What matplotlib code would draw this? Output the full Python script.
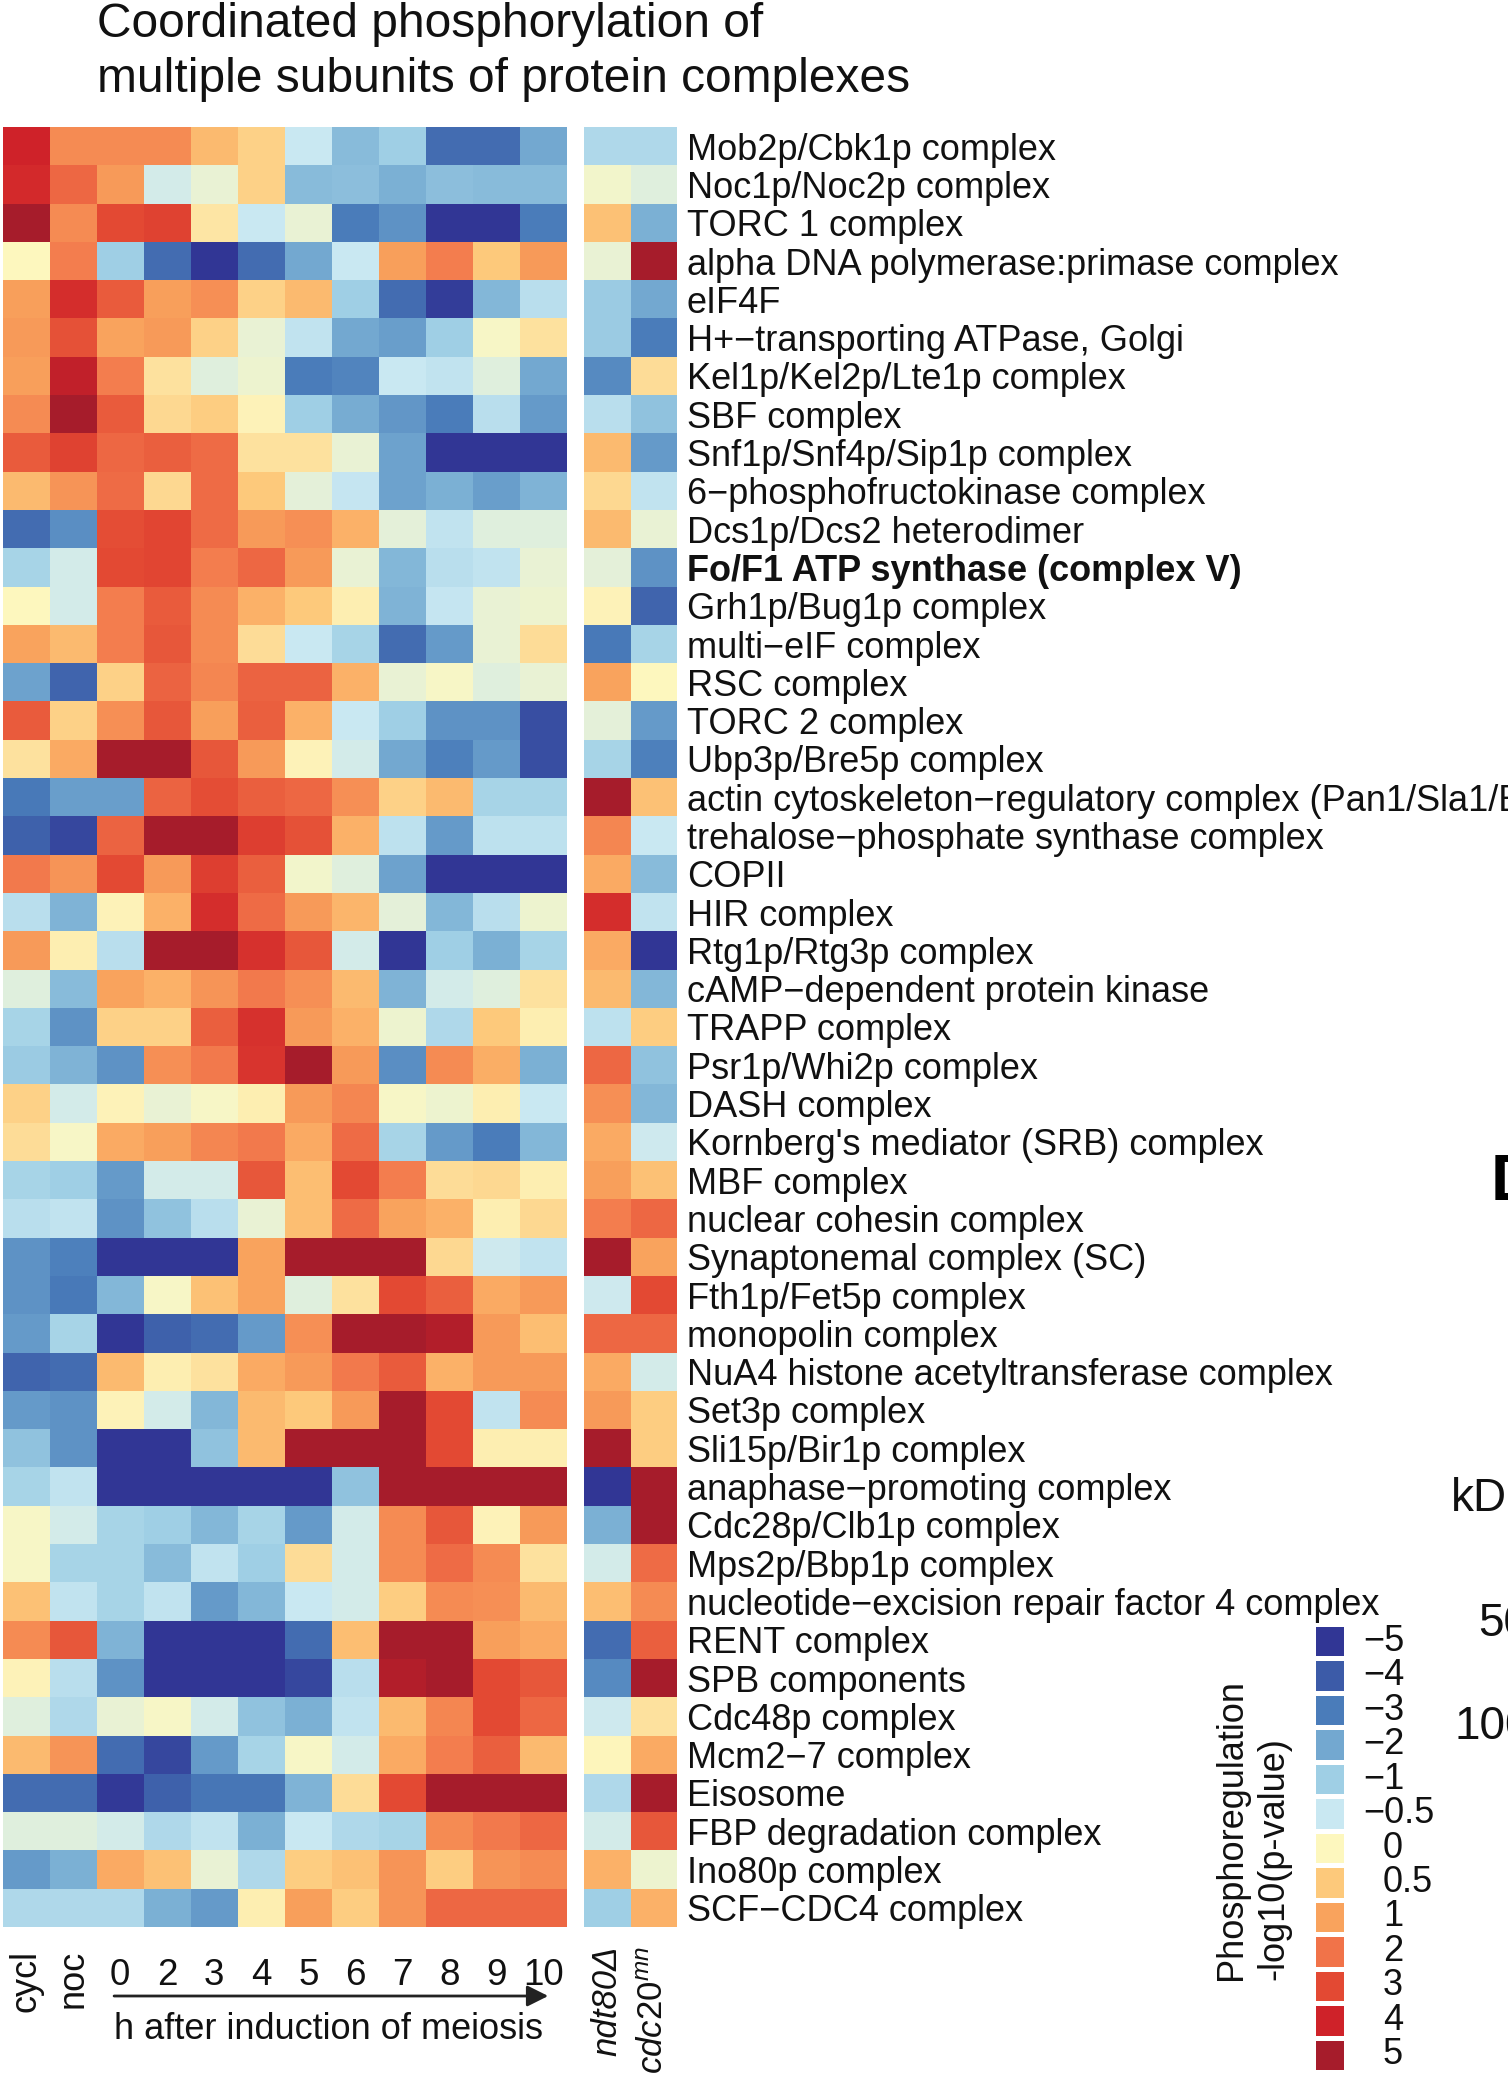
import numpy as np
import matplotlib
matplotlib.use('Agg')
import matplotlib.pyplot as plt
from matplotlib.colors import LinearSegmentedColormap, FuncNorm
from matplotlib.transforms import blended_transform_factory

plt.rcParams['font.family'] = ['Liberation Sans', 'DejaVu Sans']
plt.rcParams['mathtext.fontset'] = 'custom'
plt.rcParams['mathtext.rm'] = 'Liberation Sans'
plt.rcParams['mathtext.it'] = 'Liberation Sans:italic'

complexes = ['Mob2p/Cbk1p complex', 'Noc1p/Noc2p complex', 'TORC 1 complex',
             'alpha DNA polymerase:primase complex', 'eIF4F',
             'H+\u2212transporting ATPase, Golgi', 'Kel1p/Kel2p/Lte1p complex',
             'SBF complex', 'Snf1p/Snf4p/Sip1p complex',
             '6\u2212phosphofructokinase complex', 'Dcs1p/Dcs2 heterodimer',
             'Fo/F1 ATP synthase (complex V)', 'Grh1p/Bug1p complex',
             'multi\u2212eIF complex', 'RSC complex', 'TORC 2 complex',
             'Ubp3p/Bre5p complex',
             'actin cytoskeleton\u2212regulatory complex (Pan1/Sla1/End3)',
             'trehalose\u2212phosphate synthase complex', 'COPII', 'HIR complex',
             'Rtg1p/Rtg3p complex', 'cAMP\u2212dependent protein kinase',
             'TRAPP complex', 'Psr1p/Whi2p complex', 'DASH complex',
             "Kornberg's mediator (SRB) complex", 'MBF complex',
             'nuclear cohesin complex', 'Synaptonemal complex (SC)',
             'Fth1p/Fet5p complex', 'monopolin complex',
             'NuA4 histone acetyltransferase complex', 'Set3p complex',
             'Sli15p/Bir1p complex', 'anaphase\u2212promoting complex',
             'Cdc28p/Clb1p complex', 'Mps2p/Bbp1p complex',
             'nucleotide\u2212excision repair factor 4 complex', 'RENT complex',
             'SPB components', 'Cdc48p complex', 'Mcm2\u22127 complex', 'Eisosome',
             'FBP degradation complex', 'Ino80p complex', 'SCF\u2212CDC4 complex']

columns = ['cycl', 'noc', '0', '2', '3', '4', '5', '6', '7', '8', '9', '10']
mutants = ['ndt80\u0394', r'$\mathit{cdc20}^{\mathit{mn}}$']

# signed -log10(p-value), one row per complex
time_values = [
    [4, 1.5, 1.5, 1.5, 0.7, 0.4, -0.5, -1.5, -1, -3.5, -3.5, -2],
    [3.8, 2.3, 1.2, -0.4, -0.2, 0.4, -1.5, -1.4, -1.8, -1.4, -1.5, -1.5],
    [5, 1.5, 3, 3.2, 0.2, -0.5, -0.2, -3, -2.5, -5, -5, -3],
    [0, 1.8, -1, -3.5, -5, -3.5, -2, -0.5, 1.1, 1.8, 0.5, 1.2],
    [1.1, 3.7, 2.6, 1.1, 1.4, 0.4, 0.7, -1, -3.5, -4.8, -1.6, -0.7],
    [1.2, 2.8, 1, 1.2, 0.4, -0.2, -0.6, -2, -2.2, -1, -0.05, 0.25],
    [1.1, 4.3, 1.8, 0.25, -0.3, -0.15, -3, -2.8, -0.5, -0.6, -0.3, -2],
    [1.5, 5, 2.6, 0.35, 0.45, 0.05, -1, -1.9, -2.4, -3, -0.7, -2.3],
    [2.6, 3.2, 2.3, 2.5, 2.2, 0.25, 0.25, -0.2, -2.1, -5, -5, -5],
    [0.7, 1.3, 2.2, 0.35, 2.2, 0.5, -0.25, -0.55, -2.1, -1.8, -2.2, -1.7],
    [-3.5, -2.6, 2.9, 3.1, 2.2, 1.2, 1.4, 0.8, -0.25, -0.6, -0.3, -0.3],
    [-0.9, -0.4, 3, 3.1, 1.8, 2.3, 1.2, -0.2, -1.6, -0.7, -0.6, -0.2],
    [0, -0.4, 1.8, 2.6, 1.5, 0.8, 0.5, 0.1, -1.7, -0.55, -0.2, -0.15],
    [1, 0.7, 1.8, 2.7, 1.5, 0.3, -0.5, -0.9, -3.5, -2.3, -0.2, 0.3],
    [-2.1, -3.7, 0.4, 2.4, 1.6, 2.4, 2.4, 0.8, -0.2, -0.05, -0.3, -0.2],
    [2.6, 0.4, 1.4, 2.7, 1.1, 2.5, 0.8, -0.5, -1, -2.5, -2.5, -4.3],
    [0.25, 0.9, 5, 5, 2.7, 1.2, 0.05, -0.4, -2, -2.9, -2.3, -4.3],
    [-3.1, -2.2, -2.2, 2.4, 2.9, 2.5, 2.3, 1.4, 0.4, 0.7, -0.9, -0.9],
    [-3.8, -4.5, 2.4, 5, 5, 3.3, 2.8, 0.8, -0.65, -2.3, -0.65, -0.65],
    [1.9, 1.3, 3, 1.2, 3.3, 2.5, -0.1, -0.3, -2.1, -5, -5, -5],
    [-0.7, -1.7, 0.05, 0.8, 3.7, 2.2, 1.2, 0.75, -0.25, -1.6, -0.7, -0.15],
    [1.2, 0.1, -0.7, 5, 5, 3.6, 2.7, -0.4, -5, -1, -1.8, -0.9],
    [-0.3, -1.5, 1, 0.8, 1.3, 1.9, 1.4, 0.7, -1.7, -0.4, -0.3, 0.25],
    [-0.9, -2.5, 0.4, 0.4, 2.5, 3.6, 1.2, 0.8, -0.15, -0.8, 0.5, 0.1],
    [-1.1, -1.7, -2.5, 1.4, 1.9, 3.5, 5, 1.2, -2.6, 1.5, 0.85, -1.8],
    [0.4, -0.4, 0.05, -0.2, -0.05, 0.1, 1.2, 1.6, -0.05, -0.15, 0.1, -0.5],
    [0.3, -0.05, 0.9, 1.1, 1.6, 1.9, 0.9, 2.2, -0.9, -2.3, -3, -1.6],
    [-0.9, -1, -2.3, -0.4, -0.4, 2.7, 0.65, 3, 1.8, 0.3, 0.35, 0.1],
    [-0.7, -0.6, -2.5, -1.3, -0.7, -0.2, 0.65, 2.2, 1, 0.8, 0.1, 0.35],
    [-2.5, -2.9, -5, -5, -5, 1, 5, 5, 5, 0.35, -0.45, -0.6],
    [-2.5, -3.1, -1.6, -0.05, 0.6, 1, -0.3, 0.25, 3, 2.5, 0.9, 1.2],
    [-2.3, -0.9, -5, -3.8, -3.5, -2.3, 1.4, 5, 5, 4.7, 1.2, 0.65],
    [-3.7, -3.5, 0.7, 0.1, 0.25, 0.9, 1.2, 1.9, 2.6, 0.8, 1.2, 1.2],
    [-2.3, -2.5, 0.05, -0.4, -1.6, 0.7, 0.5, 1.2, 5, 3, -0.6, 1.5],
    [-1.3, -2.5, -5, -5, -1.3, 0.7, 5, 5, 5, 3, 0.1, 0.1],
    [-0.9, -0.6, -5, -5, -5, -5, -5, -1.3, 5, 5, 5, 5],
    [-0.05, -0.4, -0.9, -1, -1.6, -0.9, -2.3, -0.4, 1.5, 2.7, 0.05, 1.2],
    [-0.05, -0.9, -0.9, -1.5, -0.6, -1, 0.3, -0.4, 1.5, 2.2, 1.5, 0.25],
    [0.6, -0.6, -0.9, -0.6, -2.3, -1.6, -0.5, -0.4, 0.45, 1.5, 1.4, 0.7],
    [1.5, 2.7, -1.7, -5, -5, -5, -3.5, 0.65, 5, 5, 1.1, 0.9],
    [0.05, -0.7, -2.5, -5, -5, -5, -4.5, -0.7, 4.7, 5, 3, 2.7],
    [-0.3, -0.8, -0.2, -0.05, -0.4, -1.3, -1.8, -0.6, 0.7, 1.6, 3, 2.3],
    [0.7, 1.3, -3.5, -4.5, -2.3, -0.9, -0.05, -0.4, 0.9, 1.8, 2.5, 0.7],
    [-3.5, -3.5, -4.9, -3.8, -3.2, -3.2, -1.7, 0.3, 3, 5, 5, 5],
    [-0.3, -0.3, -0.4, -0.8, -0.6, -1.8, -0.5, -0.8, -0.9, 1.5, 1.9, 2.3],
    [-2.3, -1.8, 0.9, 0.6, -0.2, -0.8, 0.45, 0.6, 1.3, 0.45, 1.3, 1.5],
    [-0.8, -0.8, -0.8, -1.8, -2.3, 0.1, 1.1, 0.45, 1.3, 2.3, 2.3, 2.3],
]

mutant_values = [
    [-0.8, -0.8], [-0.1, -0.3], [0.6, -1.8], [-0.2, 5], [-1.1, -2],
    [-1.1, -3], [-2.7, 0.3], [-0.7, -1.3], [0.7, -2.3], [0.35, -0.6],
    [0.7, -0.2], [-0.25, -2.5], [0.05, -3.7], [-3.1, -0.9], [1, 0],
    [-0.25, -2.3], [-0.9, -2.9], [5, 0.6], [1.6, -0.5], [0.9, -1.5],
    [3.7, -0.6], [0.9, -5], [0.7, -1.6], [-0.65, 0.45], [2.3, -1.3],
    [1.4, -1.6], [0.9, -0.45], [1.1, 0.6], [1.8, 2.3], [5, 1],
    [-0.45, 3], [2.3, 2.3], [0.9, -0.4], [1.2, 0.45], [5, 0.45],
    [-5, 5], [-1.8, 5], [-0.4, 2.2], [0.65, 1.5], [-3.5, 2.5],
    [-2.7, 5], [-0.45, 0.25], [0.03, 0.9], [-0.8, 5], [-0.4, 2.7],
    [0.8, -0.15], [-1, 0.8],
]

cb_ticks = [-5, -4, -3, -2, -1, -0.5, 0, 0.5, 1, 2, 3, 4, 5]
cb_colors = ['#313695', '#3c5ba8', '#4a7dba', '#72a8d0', '#9fcfe5', '#cae8f2',
             '#fdf8c0', '#fdc97b', '#f9a35d', '#f1744a', '#e34a33', '#cf2229',
             '#a61c2b']

pos = np.linspace(0, 1, len(cb_ticks))
cmap = LinearSegmentedColormap.from_list('phos', list(zip(pos, cb_colors)))
norm = FuncNorm((lambda v: np.interp(v, cb_ticks, pos),
                 lambda p: np.interp(p, pos, cb_ticks)), vmin=-5, vmax=5)

W, H = 1508, 2073
def box(x0, y0, x1, y1):
    return [x0 / W, 1 - y1 / H, (x1 - x0) / W, (y1 - y0) / H]

fig = plt.figure(figsize=(W / 100, H / 100), dpi=100)

ax = fig.add_axes(box(2.6, 127, 567, 1927))
ax.pcolormesh(np.array(time_values), cmap=cmap, norm=norm)
ax.set_xlim(0, len(columns))
ax.set_ylim(len(complexes), 0)
ax.axis('off')

ax2 = fig.add_axes(box(584, 127, 677, 1927))
ax2.pcolormesh(np.array(mutant_values), cmap=cmap, norm=norm)
ax2.set_xlim(0, len(mutants))
ax2.set_ylim(len(complexes), 0)
for s in ax2.spines.values():
    s.set_visible(False)
ax2.set_xticks([])
ax2.yaxis.tick_right()
ax2.set_yticks(np.arange(len(complexes)) + 0.5)
ax2.set_yticklabels(complexes, fontsize=26, color='#111111')
ax2.tick_params(axis='y', length=0, pad=7)
ax2.get_yticklabels()[complexes.index('Fo/F1 ATP synthase (complex V)')].set_fontweight('bold')

# bottom labels
tb = blended_transform_factory(ax.transData, fig.transFigure)
for j, c in enumerate(columns):
    if j < 2:
        ax.text(j + 0.5, 1 - 1950 / H, c, rotation=90, ha='center', va='top',
                transform=tb, fontsize=26, color='#111111')
    else:
        ax.text(j + 0.5, 1 - 1985 / H, c, ha='center', va='baseline',
                transform=tb, fontsize=26.5, color='#111111')
ax.annotate('', xy=(11.6, 1 - 1996 / H), xytext=(2.37, 1 - 1996 / H),
            xycoords=tb, textcoords=tb,
            arrowprops=dict(arrowstyle='-|>', color='#222222', lw=2,
                            mutation_scale=32, shrinkA=0, shrinkB=0))
ax.text(2.37, 1 - 2039 / H, 'h after induction of meiosis', ha='left',
        va='baseline', transform=tb, fontsize=26, color='#111111')

tm = blended_transform_factory(ax2.transData, fig.transFigure)
for j, m in enumerate(mutants):
    ax2.text(j + 0.5, 1 - 1946 / H, m, rotation=90, ha='center', va='top',
             transform=tm, fontsize=25, style='italic', color='#111111')

# colour key
cax = fig.add_axes(box(1313, 1624, 1346, 2072))
cax.pcolormesh(np.array(cb_ticks).reshape(-1, 1), cmap=cmap, norm=norm,
               edgecolors='white', linewidth=2.5)
cax.set_xlim(0, 1)
cax.set_ylim(len(cb_ticks), 0)
cax.axis('off')
tc = blended_transform_factory(fig.transFigure, cax.transData)
for i, t in enumerate(cb_ticks):
    lab = ('%g' % t).replace('-', '\u2212')
    x = 1363 / W if t < 0 else 1383 / W
    cax.text(x, i + 0.5, lab, transform=tc, ha='left', va='center',
             fontsize=26, color='#111111')

fig.text(1232 / W, 1 - 1980 / H, 'Phosphoregulation', rotation=90,
         ha='center', va='bottom', fontsize=26, color='#111111')
fig.text(1274 / W, 1 - 1980 / H, '-log10(p-value)', rotation=90,
         ha='center', va='bottom', fontsize=26, color='#111111')

# title
fig.text(96.5 / W, 1 - 37 / H, 'Coordinated phosphorylation of',
         fontsize=34.5, va='baseline', color='#111111')
fig.text(96.5 / W, 1 - 92.5 / H, 'multiple subunits of protein complexes',
         fontsize=34.5, va='baseline', color='#111111')

# edge of the neighbouring panel
fig.text(1491 / W, 1 - 1200 / H, 'D', fontsize=47, fontweight='bold', va='baseline')
fig.text(1451 / W, 1 - 1511 / H, 'kDa', fontsize=33, va='baseline', color='#111111')
fig.text(1478 / W, 1 - 1636 / H, '50', fontsize=33, va='baseline', color='#111111')
fig.text(1454 / W, 1 - 1739 / H, '100', fontsize=33, va='baseline', color='#111111')

fig.savefig('out.png', dpi=100)
